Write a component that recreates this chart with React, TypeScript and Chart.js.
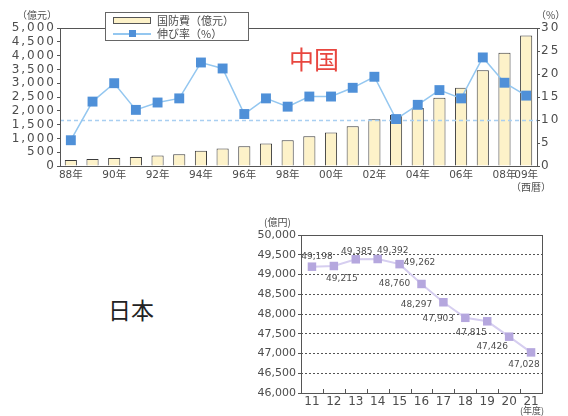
import React, { useEffect, useRef } from 'react';
import { Chart, registerables } from 'chart.js';

Chart.register(...registerables);

// ---------- China (top chart) ----------
const chinaYearLabels = ['88年', '', '90年', '', '92年', '', '94年', '', '96年', '', '98年', '', '00年', '', '02年', '', '04年', '', '06年', '', '08年', '09年'];
const chinaBudget = [218, 251, 290, 330, 378, 426, 551, 637, 720, 813, 935, 1077, 1212, 1442, 1694, 1853, 2100, 2475, 2838, 3472, 4099, 4729];
const chinaGrowth = [5.6, 14.0, 18.0, 12.2, 13.8, 14.7, 22.5, 21.2, 11.3, 14.7, 12.9, 15.1, 15.1, 17.0, 19.4, 10.2, 13.3, 16.5, 14.7, 23.6, 18.1, 15.3];
const chinaRefLine = 10;
const chinaBudgetAxis = { min: 0, max: 5000, step: 500 };
const chinaGrowthAxis = { min: 0, max: 30, step: 5 };

// ---------- Japan (bottom chart) ----------
const japanYears = ['11', '12', '13', '14', '15', '16', '17', '18', '19', '20', '21'];
const japanBudget = [49198, 49215, 49385, 49392, 49262, 48760, 48297, 47903, 47815, 47426, 47028];
const japanAxis = { min: 46000, max: 50000, step: 500 };
// label placement relative to each point (style config)
const japanLabelOffsets = [[5, -10], [8, 13], [1, -8], [15, -8], [20, -1], [-27, 0], [-27, 2], [-27, 1], [-16, 11], [-17, 10], [-7, 12]];

const FONT = '"DejaVu Sans", "Noto Sans CJK JP", sans-serif';
const JP = '"Noto Sans CJK JP", sans-serif';
const TXT = '#4d4d4d';
const fmt = (v: any) => Number(v).toLocaleString('en-US');

const boxPlugin = {
  id: 'box',
  afterDatasetsDraw(chart: any) {
    const { ctx, chartArea: a } = chart;
    ctx.save();
    ctx.strokeStyle = '#555';
    ctx.lineWidth = 1;
    ctx.setLineDash([]);
    ctx.strokeRect(Math.round(a.left) + 0.5, Math.round(a.top) + 0.5, Math.round(a.right - a.left), Math.round(a.bottom - a.top));
    ctx.restore();
  },
};

const refLinePlugin = {
  id: 'refLine',
  afterDatasetDraw(chart: any, args: any) {
    if (args.index !== 1) return;
    const { ctx, chartArea: a } = chart;
    const y = Math.round(chart.scales.y2.getPixelForValue(chinaRefLine)) + 0.5;
    ctx.save();
    ctx.strokeStyle = '#a9cff1';
    ctx.lineWidth = 1.5;
    ctx.setLineDash([4, 3]);
    ctx.beginPath();
    ctx.moveTo(a.left, y);
    ctx.lineTo(a.right, y);
    ctx.stroke();
    ctx.restore();
  },
};

const spacingPlugin = {
  id: 'spacing',
  beforeDraw(chart: any) {
    chart.ctx.letterSpacing = '2px';
  },
  beforeDatasetsDraw(chart: any) {
    chart.ctx.letterSpacing = '0px';
  },
};

const innerTicksPlugin = {
  id: 'innerTicks',
  afterDatasetsDraw(chart: any) {
    const { ctx, chartArea: a } = chart;
    const xs = chart.scales.x;
    ctx.save();
    ctx.strokeStyle = '#555';
    ctx.lineWidth = 1;
    for (let i = 0; i < japanYears.length - 1; i++) {
      const x = Math.round((xs.getPixelForTick(i) + xs.getPixelForTick(i + 1)) / 2) + 0.5;
      ctx.beginPath();
      ctx.moveTo(x, a.bottom);
      ctx.lineTo(x, a.bottom - 4);
      ctx.stroke();
    }
    ctx.restore();
  },
};

const dataLabelPlugin = {
  id: 'dataLabels',
  afterDatasetsDraw(chart: any) {
    const { ctx } = chart;
    const meta = chart.getDatasetMeta(0);
    ctx.save();
    ctx.fillStyle = TXT;
    ctx.font = '9px ' + FONT;
    ctx.textAlign = 'center';
    ctx.textBaseline = 'middle';
    meta.data.forEach((pt: any, i: number) => {
      const [dx, dy] = japanLabelOffsets[i];
      ctx.fillText(fmt(japanBudget[i]), pt.x + dx, pt.y + dy);
    });
    ctx.restore();
  },
};

function ChinaChart() {
  const ref = useRef<HTMLCanvasElement>(null);
  useEffect(() => {
    const chart = new Chart(ref.current!, {
      type: 'bar',
      data: {
        labels: chinaYearLabels,
        datasets: [
          {
            type: 'line',
            label: '伸び率（%）',
            data: chinaGrowth,
            yAxisID: 'y2',
            borderColor: '#94c7f0',
            borderWidth: 1.5,
            pointStyle: 'rect',
            pointRadius: 7,
            pointBackgroundColor: '#4f90d8',
            pointBorderColor: '#4f90d8',
            pointBorderWidth: 0,
            tension: 0,
            order: 0,
          } as any,
          {
            type: 'bar',
            label: '国防費（億元）',
            data: chinaBudget,
            yAxisID: 'y',
            backgroundColor: '#fdf2c9',
            borderColor: '#3c3c3c',
            borderWidth: 1,
            barPercentage: 0.56,
            categoryPercentage: 1,
            order: 1,
          } as any,
        ],
      },
      options: {
        responsive: false,
        animation: false,
        devicePixelRatio: 1,
        layout: { padding: { top: 28, left: 0, right: 0, bottom: 0 } },
        plugins: { legend: { display: false }, tooltip: { enabled: false } },
        scales: {
          x: {
            grid: { display: false, drawTicks: false, tickLength: 0 },
            border: { display: false },
            ticks: { autoSkip: false, maxRotation: 0, minRotation: 0, color: TXT, font: { size: 10.5, family: FONT }, padding: 3, z: 1 } as any,
            afterFit(s: any) { s.height = 34; },
          },
          y: {
            position: 'left',
            min: chinaBudgetAxis.min,
            max: chinaBudgetAxis.max,
            ticks: { autoSkip: false, stepSize: chinaBudgetAxis.step, callback: fmt, color: TXT, font: { size: 12, family: FONT }, padding: 1 },
            grid: { drawOnChartArea: false, tickLength: 3, color: '#555' },
            border: { display: false },
            afterFit(s: any) { s.width = 60; },
          },
          y2: {
            position: 'right',
            min: chinaGrowthAxis.min,
            max: chinaGrowthAxis.max,
            ticks: { autoSkip: false, stepSize: chinaGrowthAxis.step, color: TXT, font: { size: 12, family: FONT }, padding: 1 },
            grid: { drawOnChartArea: false, tickLength: 3, color: '#555' },
            border: { display: false },
            afterFit(s: any) { s.width = 31; },
          },
        },
      },
      plugins: [spacingPlugin, refLinePlugin, boxPlugin],
    });
    return () => chart.destroy();
  }, []);
  return <canvas ref={ref} width={568} height={200} style={{ position: 'absolute', left: 0, top: 0, width: 568, height: 200 }} />;
}

function JapanChart() {
  const ref = useRef<HTMLCanvasElement>(null);
  useEffect(() => {
    const chart = new Chart(ref.current!, {
      type: 'line',
      data: {
        labels: japanYears,
        datasets: [
          {
            data: japanBudget,
            borderColor: '#d6cef0',
            borderWidth: 2,
            pointStyle: 'rect',
            pointRadius: 6,
            pointBackgroundColor: '#b5a7de',
            pointBorderColor: '#b5a7de',
            pointBorderWidth: 0,
            tension: 0,
          } as any,
        ],
      },
      options: {
        responsive: false,
        animation: false,
        devicePixelRatio: 1,
        layout: { padding: { top: 20, left: 0, right: 26, bottom: 0 } },
        plugins: { legend: { display: false }, tooltip: { enabled: false } },
        scales: {
          x: {
            offset: true,
            grid: { display: false, drawTicks: false, tickLength: 0 },
            border: { display: false },
            ticks: { autoSkip: false, maxRotation: 0, color: TXT, font: { size: 12, family: FONT }, padding: 2 },
            afterFit(s: any) { s.height = 23; },
          },
          y: {
            min: japanAxis.min,
            max: japanAxis.max,
            ticks: { autoSkip: false, stepSize: japanAxis.step, callback: fmt, color: TXT, font: { size: 11, family: FONT }, padding: 2 },
            grid: { color: '#555', tickLength: 3, tickBorderDash: [], tickColor: '#555' } as any,
            border: { display: false, dash: [2, 2] },
            afterFit(s: any) { s.width = 51; },
          },
        },
      },
      plugins: [boxPlugin, innerTicksPlugin, dataLabelPlugin],
    });
    return () => chart.destroy();
  }, []);
  return <canvas ref={ref} width={318} height={201} style={{ position: 'absolute', left: 250, top: 215, width: 318, height: 201 }} />;
}

const txt = (s: string, left: number, top: number, size: number, color = TXT, family = JP): React.ReactNode => (
  <div style={{ position: 'absolute', left, top, fontSize: size, lineHeight: `${size}px`, color, fontFamily: family, whiteSpace: 'nowrap' }}>{s}</div>
);

export default function App() {
  return (
    <div style={{ position: 'absolute', left: 0, top: 0, width: 568, height: 416, background: '#fff', overflow: 'hidden' }}>
      <ChinaChart />
      <JapanChart />
      {/* top chart annotations */}
      {txt('（億元）', 17, 10, 10)}
      {txt('（%）', 536, 10, 10)}
      {txt('（西暦）', 511, 182, 10)}
      {txt('中国', 289, 46, 25, '#e8463f')}
      {/* legend */}
      <div style={{ position: 'absolute', left: 105, top: 12, width: 142, height: 27, border: '1px solid #666', background: '#fff' }}>
        <div style={{ position: 'absolute', left: 7, top: 4, width: 36, height: 5, background: '#fdf2c9', border: '1px solid #555' }} />
        <div style={{ position: 'absolute', left: 7, top: 20, width: 38, height: 1.5, background: '#94c7f0' }} />
        <div style={{ position: 'absolute', left: 23, top: 17, width: 7, height: 7, background: '#4f90d8' }} />
        {txt('国防費（億元）', 51, 2, 11)}
        {txt('伸び率（%）', 51, 15, 11)}
      </div>
      {/* bottom chart annotations */}
      {txt('日本', 108, 298, 23, '#222')}
      {txt('(億円)', 264, 217, 10)}
      {txt('(年度)', 520, 406, 9)}
    </div>
  );
}
